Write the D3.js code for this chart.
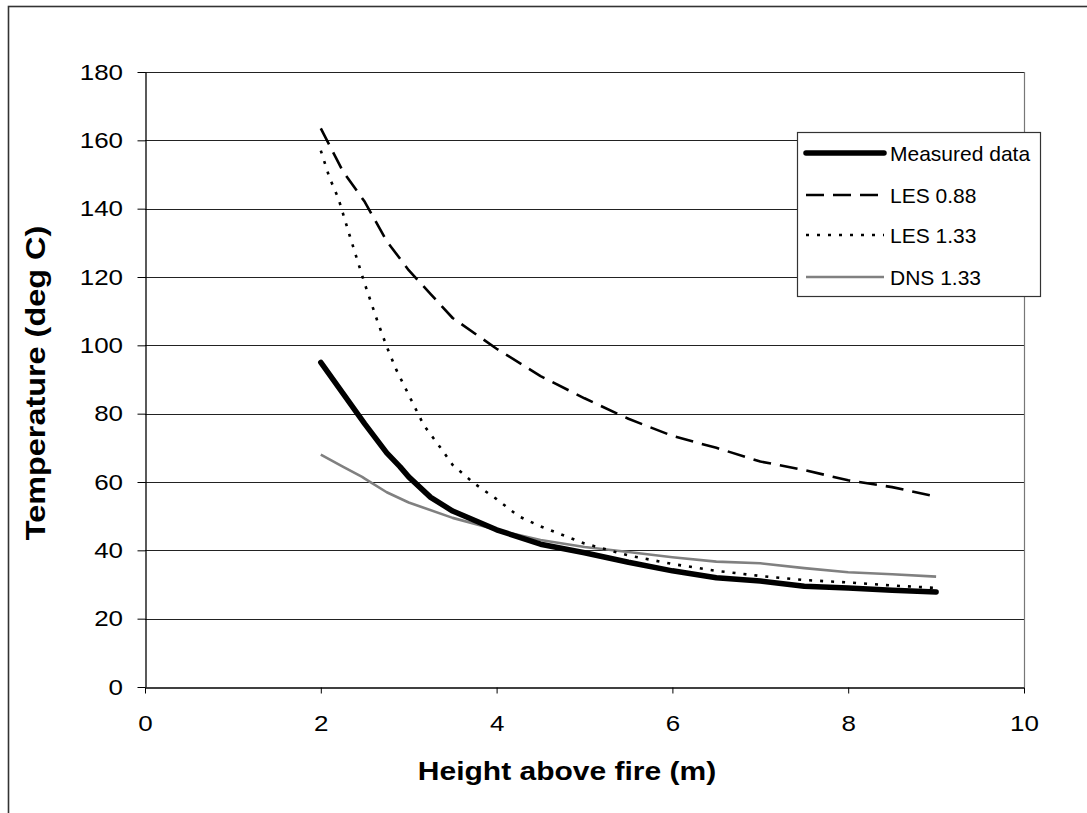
<!DOCTYPE html>
<html><head><meta charset="utf-8">
<script src="https://cdn.jsdelivr.net/npm/d3@7"></script>
<style>body{margin:0;background:#fff}svg{display:block}text{font-family:"Liberation Sans",Arial,sans-serif}</style>
</head><body>
<svg id="c" width="1087" height="813"></svg>
<script>
const xTicks = [0,2,4,6,8,10];
const yTicks = [0,20,40,60,80,100,120,140,160,180];
const seriesNames = ["Measured data","LES 0.88","LES 1.33","DNS 1.33"];
const measuredX = [2,2.25,2.5,2.75,2.9,3,3.25,3.5,4,4.5,5,5.5,6,6.5,7,7.5,8,8.5,9];
const measuredY = [95,86,77,68.5,64.5,61.5,55.5,51.5,46,41.8,39.3,36.5,34,32,31,29.5,29,28.3,27.8];
const les088X = [2,2.25,2.5,2.75,3,3.25,3.5,4,4.5,5,5.5,6,6.5,7,7.5,8,8.5,9];
const les088Y = [163.5,151,142,130.5,122,115,108,99,91,84.5,78.5,73.5,70,66,63.5,60.5,58.5,55.7];
const les133X = [2,2.1,2.2,2.33,2.5,2.64,2.75,2.86,3,3.17,3.34,3.5,3.75,4,4.25,4.5,5,5.5,6,6.5,7,7.5,8,8.5,9];
const les133Y = [157,149,143,132,118,107.4,99.6,92.8,85.5,76.7,70.8,65,59.5,55,50,47,42,38.5,36,34,32.5,31.3,30.6,29.7,29];
const dnsX = [2,2.25,2.47,2.5,2.75,3,3.5,4,4.5,5,5.5,6,6.5,7,7.5,8,8.5,9];
const dnsY = [68,64.5,61.5,61,57,54,49.5,46,43,41,39.5,38,36.7,36.2,34.8,33.6,33,32.3];

const svg = d3.select("#c");
const L=145, R=1024, T=72, B=687;
const x = d3.scaleLinear().domain([0,10]).range([L,R]);
const y = d3.scaleLinear().domain([0,180]).range([B,T]);
const FONT = "Liberation Sans, Arial, sans-serif";

// outer chart border
svg.append("rect").attr("x",8.5).attr("y",6.5).attr("width",1100).attr("height",900)
  .attr("fill","none").attr("stroke","#333").attr("stroke-width",1.6);

// gridlines
svg.append("g").selectAll("line").data(yTicks.filter(d=>d>0)).join("line")
  .attr("x1",L).attr("x2",R).attr("y1",d=>Math.round(y(d))+0.5).attr("y2",d=>Math.round(y(d))+0.5)
  .attr("stroke","#222").attr("stroke-width",1);
// plot right border
svg.append("line").attr("x1",R+0.5).attr("x2",R+0.5).attr("y1",T).attr("y2",B).attr("stroke","#777").attr("stroke-width",1.2);

// axes
const yAxis = d3.axisLeft(y).tickValues(yTicks).tickSizeInner(8).tickSizeOuter(0).tickPadding(14.5);
const gy = svg.append("g").attr("transform",`translate(${L+0.5},0)`).call(yAxis);
const xAxis = d3.axisBottom(x).tickValues(xTicks).tickSizeInner(6).tickSizeOuter(0).tickPadding(18);
const gx = svg.append("g").attr("transform",`translate(0,${B+0.5})`).call(xAxis);
[gy,gx].forEach(g=>{
  g.select(".domain").attr("stroke","#000").attr("stroke-width",1.3);
  g.selectAll(".tick line").attr("stroke","#000");
  g.selectAll(".tick text").attr("font-size",22).attr("fill","#000").style("font-family",FONT);
});
gy.selectAll(".tick text").attr("transform","translate(-22.5,0) scale(1.18,1) translate(22.5,0)");
gx.selectAll(".tick text").attr("y",43.5).attr("dy",null).attr("transform","scale(1.18,1)");

// axis titles
svg.append("text").attr("transform","translate(567,780) scale(1.2,1)").attr("text-anchor","middle")
  .attr("font-size",25).attr("font-weight","bold").text("Height above fire (m)");
svg.append("text").attr("transform","translate(45,383) rotate(-90) scale(1.2,1)").attr("text-anchor","middle")
  .attr("font-size",27).attr("font-weight","bold").text("Temperature (deg C)");

const styles = [
  {stroke:"#000", w:5.5, dash:null},
  {stroke:"#000", w:2.6, dash:"18,9"},
  {stroke:"#000", w:2.6, dash:"3,8"},
  {stroke:"#808080", w:2.6, dash:null}
];
const seriesData = [
  measuredX.map((v,i)=>[v,measuredY[i]]),
  les088X.map((v,i)=>[v,les088Y[i]]),
  les133X.map((v,i)=>[v,les133Y[i]]),
  dnsX.map((v,i)=>[v,dnsY[i]])
];
const line = d3.line().x(d=>x(d[0])).y(d=>y(d[1]));
[3,2,1,0].forEach(i=>{
  svg.append("path").datum(seriesData[i]).attr("d",line).attr("fill","none")
    .attr("stroke",styles[i].stroke).attr("stroke-width",styles[i].w)
    .attr("stroke-dasharray",styles[i].dash).attr("stroke-linejoin","round").attr("stroke-linecap",i===0?"round":"butt");
});

// legend
const lg = svg.append("g");
lg.append("rect").attr("x",797.5).attr("y",132.5).attr("width",243).attr("height",164)
  .attr("fill","#fff").attr("stroke","#333").attr("stroke-width",1.2);
const legendY = [153,195,235,277];
seriesNames.forEach((n,i)=>{
  lg.append("line").attr("x1",806).attr("x2",884).attr("y1",legendY[i]).attr("y2",legendY[i])
    .attr("stroke",styles[i].stroke).attr("stroke-width",styles[i].w)
    .attr("stroke-dasharray",styles[i].dash).attr("stroke-linecap",i===0?"round":"butt");
  lg.append("text").attr("x",890).attr("y",legendY[i]).attr("dy","0.36em")
    .attr("font-size",21).attr("fill","#000").text(n);
});
</script>
</body></html>
